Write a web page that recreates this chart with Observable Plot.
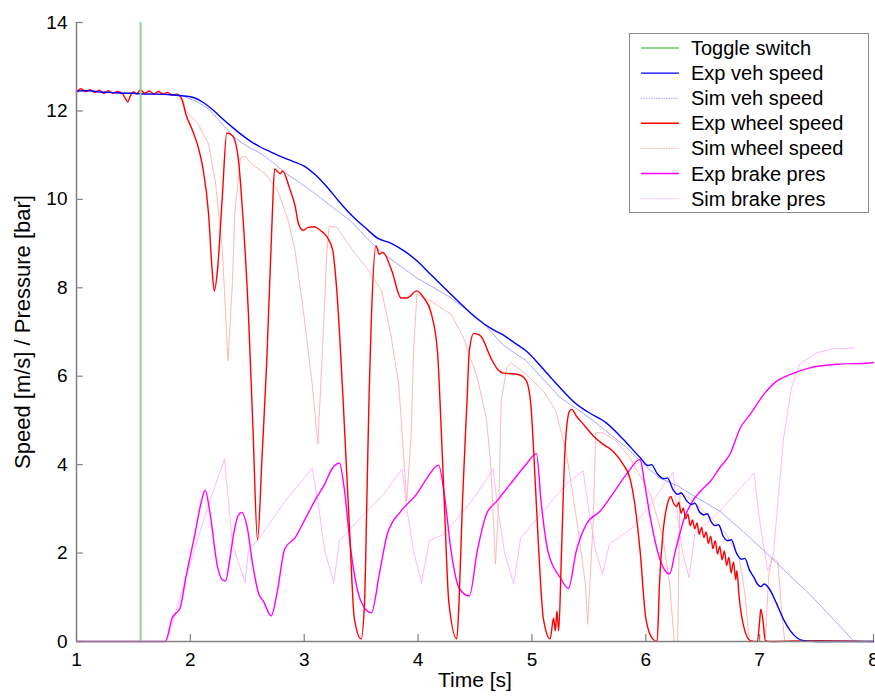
<!DOCTYPE html>
<html>
<head>
<meta charset="utf-8">
<script src="https://cdn.jsdelivr.net/npm/d3@7"></script>
<script src="https://cdn.jsdelivr.net/npm/@observablehq/plot@0.6"></script>
<style>
  html, body { margin: 0; padding: 0; background: #fff; }
  #chart { width: 875px; height: 696px; }
</style>
</head>
<body>
<div id="chart"></div>
<script>
// ---------- DATA ----------
const xTicks = [1, 2, 3, 4, 5, 6, 7, 8];
const yTicks = [0, 2, 4, 6, 8, 10, 12, 14];
const toggleTime = [1.563];

const seriesNames = ["Toggle switch", "Exp veh speed", "Sim veh speed", "Exp wheel speed", "Sim wheel speed", "Exp brake pres", "Sim brake pres"];

const expVeh = [[1.00,12.45],[1.10,12.46],[1.20,12.43],[1.30,12.42],[1.40,12.40],[1.50,12.40],[1.60,12.38],[1.70,12.38],[1.80,12.37],[1.90,12.35],[2.00,12.32],[2.06,12.27],[2.12,12.18],[2.20,12.02],[2.28,11.83],[2.36,11.65],[2.44,11.48],[2.52,11.33],[2.61,11.19],[2.70,11.08],[2.80,10.96],[2.90,10.86],[3.00,10.75],[3.10,10.55],[3.20,10.28],[3.30,9.97],[3.42,9.63],[3.54,9.35],[3.64,9.13],[3.76,9.01],[3.88,8.83],[3.99,8.61],[4.10,8.33],[4.23,8.00],[4.37,7.65],[4.52,7.30],[4.64,7.08],[4.75,6.93],[4.85,6.75],[4.95,6.57],[5.07,6.25],[5.19,5.90],[5.29,5.62],[5.39,5.37],[5.50,5.18],[5.65,4.95],[5.80,4.58],[5.95,4.16],[6.02,3.98],[6.05,4.00],[6.10,3.80],[6.16,3.68],[6.19,3.70],[6.24,3.43],[6.28,3.33],[6.31,3.36],[6.36,3.18],[6.40,3.10],[6.43,3.13],[6.47,2.94],[6.51,2.86],[6.54,2.89],[6.57,2.73],[6.61,2.62],[6.64,2.64],[6.68,2.38],[6.72,2.28],[6.75,2.30],[6.80,1.98],[6.84,1.86],[6.87,1.88],[6.91,1.62],[6.95,1.45],[6.98,1.30],[7.01,1.24],[7.04,1.30],[7.08,1.21],[7.15,0.85],[7.21,0.50],[7.27,0.24],[7.33,0.08],[7.39,0.02],[7.50,0.00],[8.00,0.00]];

const simVeh = [[1.00,12.45],[1.50,12.40],[1.90,12.36],[1.95,12.32],[2.05,12.22],[2.16,12.05],[2.28,11.70],[2.39,11.39],[2.50,11.20],[2.63,11.02],[2.75,10.78],[2.83,10.60],[2.92,10.45],[3.02,10.27],[3.12,10.08],[3.26,9.80],[3.41,9.51],[3.55,9.12],[3.70,8.76],[3.85,8.48],[3.99,8.22],[4.14,8.00],[4.29,7.77],[4.44,7.48],[4.58,7.18],[4.66,6.95],[4.75,6.70],[4.85,6.52],[4.95,6.35],[5.10,5.93],[5.25,5.51],[5.40,5.25],[5.54,4.99],[5.68,4.70],[5.83,4.39],[5.97,4.03],[6.12,3.70],[6.28,3.52],[6.45,3.25],[6.65,2.95],[6.85,2.50],[7.04,2.05],[7.24,1.55],[7.44,1.07],[7.63,0.55],[7.83,0.00],[8.00,0.00]];

const expWheel = [[1.00,12.42],[1.04,12.50],[1.08,12.44],[1.12,12.48],[1.16,12.42],[1.20,12.47],[1.24,12.40],[1.28,12.46],[1.32,12.40],[1.36,12.44],[1.40,12.40],[1.43,12.28],[1.45,12.20],[1.47,12.32],[1.50,12.43],[1.53,12.38],[1.56,12.48],[1.60,12.40],[1.64,12.45],[1.68,12.38],[1.72,12.44],[1.76,12.38],[1.80,12.42],[1.84,12.36],[1.88,12.38],[1.91,12.33],[1.93,12.23],[1.96,11.93],[2.02,11.55],[2.07,11.17],[2.11,10.71],[2.16,9.67],[2.19,8.45],[2.21,7.93],[2.24,8.45],[2.28,10.03],[2.32,11.50],[2.37,11.44],[2.42,10.94],[2.46,9.67],[2.51,7.41],[2.55,4.80],[2.59,2.30],[2.63,4.20],[2.67,6.27],[2.72,9.67],[2.74,10.69],[2.77,10.62],[2.79,10.58],[2.81,10.64],[2.87,10.26],[2.92,9.85],[2.95,9.45],[2.99,9.30],[3.03,9.36],[3.09,9.38],[3.14,9.30],[3.20,9.15],[3.25,8.85],[3.29,7.80],[3.34,5.54],[3.40,2.43],[3.44,0.53],[3.50,0.06],[3.53,0.90],[3.55,3.17],[3.57,5.60],[3.59,7.32],[3.63,8.95],[3.66,8.76],[3.69,8.80],[3.77,8.38],[3.85,7.77],[3.90,7.77],[3.99,7.93],[4.05,7.77],[4.11,7.47],[4.17,6.57],[4.20,5.00],[4.23,3.17],[4.27,0.90],[4.34,0.06],[4.36,0.90],[4.39,3.17],[4.43,5.44],[4.45,6.57],[4.49,6.97],[4.52,6.95],[4.55,6.91],[4.64,6.41],[4.70,6.15],[4.75,6.07],[4.88,6.04],[4.95,5.90],[4.99,5.37],[5.03,3.56],[5.06,2.05],[5.10,0.53],[5.16,0.06],[5.19,0.53],[5.205,0.24],[5.22,0.69],[5.235,0.24],[5.26,2.05],[5.29,4.31],[5.33,5.21],[5.35,5.25],[5.39,5.10],[5.45,4.92],[5.54,4.65],[5.62,4.47],[5.71,4.31],[5.80,4.01],[5.86,3.70],[5.90,3.17],[5.95,2.05],[6.00,0.53],[6.06,0.06],[6.10,0.00],[6.12,1.30],[6.15,2.43],[6.19,3.11],[6.22,3.28],[6.24,3.15],[6.27,3.05],[6.29,3.15],[6.31,2.90],[6.33,3.02],[6.35,2.78],[6.37,2.88],[6.39,2.62],[6.41,2.75],[6.43,2.55],[6.45,2.68],[6.47,2.42],[6.49,2.58],[6.51,2.35],[6.53,2.48],[6.55,2.22],[6.57,2.38],[6.59,2.10],[6.61,2.28],[6.63,1.98],[6.65,2.15],[6.67,1.85],[6.69,2.05],[6.71,1.72],[6.73,1.90],[6.75,1.55],[6.77,1.80],[6.79,1.40],[6.80,1.60],[6.82,1.00],[6.84,0.60],[6.87,0.24],[6.92,0.02],[6.98,0.00],[7.00,0.46],[7.01,0.73],[7.03,0.46],[7.05,0.02],[7.10,0.00],[7.50,0.02],[8.00,0.00]];

const simWheel = [[1.00,12.45],[1.50,12.40],[1.90,12.36],[1.93,12.30],[1.96,12.00],[2.07,11.70],[2.16,11.25],[2.22,10.40],[2.28,8.90],[2.31,7.40],[2.33,6.35],[2.35,7.20],[2.37,8.15],[2.39,9.67],[2.44,10.94],[2.48,10.98],[2.54,10.80],[2.66,10.57],[2.77,10.19],[2.86,9.51],[2.92,8.84],[3.00,7.33],[3.07,5.82],[3.12,4.47],[3.16,6.57],[3.20,8.84],[3.22,9.40],[3.29,9.36],[3.41,8.90],[3.55,8.45],[3.68,7.93],[3.76,6.95],[3.83,5.82],[3.88,3.93],[3.90,3.17],[3.94,4.69],[3.96,6.57],[3.99,7.86],[4.11,7.70],[4.29,7.40],[4.40,6.87],[4.52,5.96],[4.60,5.05],[4.64,3.93],[4.68,1.75],[4.71,3.17],[4.73,5.44],[4.78,6.20],[4.82,6.30],[4.95,6.04],[5.10,5.67],[5.21,5.21],[5.30,4.31],[5.39,2.80],[5.47,1.30],[5.49,0.39],[5.54,2.80],[5.56,4.72],[5.62,4.72],[5.74,4.54],[5.86,4.16],[6.04,3.34],[6.15,2.35],[6.21,1.30],[6.25,0.00],[6.28,0.00],[6.30,3.40],[6.40,3.20],[6.55,2.85],[6.70,2.45],[6.82,1.90],[6.87,1.10],[6.91,0.00],[7.05,0.00],[7.08,1.50],[7.11,1.90],[7.16,1.80],[7.19,0.80],[7.22,0.00],[8.00,0.00]];

const expBrake = [[1.00,0.00],[1.78,0.00],[1.84,0.53],[1.91,0.76],[1.96,1.44],[2.04,2.43],[2.10,3.20],[2.13,3.42],[2.17,2.95],[2.24,1.67],[2.28,1.40],[2.31,1.37],[2.34,1.75],[2.38,2.43],[2.42,2.85],[2.45,2.92],[2.50,2.57],[2.55,1.70],[2.60,1.08],[2.64,0.92],[2.71,0.58],[2.76,1.08],[2.83,2.10],[2.92,2.35],[3.00,2.73],[3.09,3.17],[3.18,3.56],[3.25,3.93],[3.31,4.03],[3.35,3.49],[3.41,2.05],[3.50,0.90],[3.59,0.65],[3.66,1.53],[3.73,2.43],[3.85,2.95],[3.99,3.34],[4.08,3.70],[4.18,3.99],[4.23,3.34],[4.29,2.05],[4.36,1.21],[4.45,1.03],[4.52,2.05],[4.60,2.88],[4.69,3.17],[4.81,3.56],[4.95,4.01],[5.04,4.25],[5.08,3.17],[5.14,2.05],[5.25,1.44],[5.32,1.20],[5.39,2.05],[5.48,2.66],[5.60,2.95],[5.71,3.34],[5.83,3.78],[5.95,4.12],[5.99,3.56],[6.04,2.80],[6.12,1.89],[6.21,1.53],[6.26,2.05],[6.34,2.80],[6.41,3.17],[6.48,3.40],[6.57,3.63],[6.65,3.93],[6.74,4.24],[6.83,4.83],[6.92,5.15],[7.04,5.60],[7.15,5.89],[7.27,6.04],[7.44,6.19],[7.68,6.27],[7.97,6.30],[8.00,6.31]];

const simBrake = [[1.00,0.00],[1.79,0.00],[1.83,0.30],[1.96,1.44],[2.16,3.10],[2.30,4.13],[2.37,2.20],[2.48,1.33],[2.51,2.05],[2.63,2.43],[2.83,3.17],[3.07,3.92],[3.12,3.17],[3.18,2.05],[3.26,1.33],[3.31,2.28],[3.41,2.57],[3.70,3.34],[3.86,3.90],[3.90,3.02],[3.96,2.05],[4.03,1.33],[4.10,2.28],[4.23,2.43],[4.47,3.17],[4.66,3.90],[4.70,3.00],[4.76,2.00],[4.84,1.30],[4.90,2.34],[5.10,2.95],[5.30,3.56],[5.45,3.86],[5.51,2.80],[5.56,2.05],[5.62,1.53],[5.68,2.20],[5.88,2.57],[6.06,3.17],[6.24,3.83],[6.28,2.80],[6.32,2.05],[6.38,1.44],[6.43,2.43],[6.65,2.95],[6.95,3.81],[7.00,2.73],[7.07,1.60],[7.12,1.96],[7.21,4.60],[7.28,5.74],[7.35,6.27],[7.50,6.53],[7.65,6.62],[7.83,6.64]];

// ---------- STYLES ----------
const colors = {
  toggle: "#8fd48f",
  expVeh: "#0000ff",
  simVeh: "#9d9dff",
  expWheel: "#ff0000",
  simWheel: "#ffb0b0",
  expBrake: "#ff00ff",
  simBrake: "#ffb0ff"
};
const legendItems = [
  {name: seriesNames[0], color: colors.toggle, width: 2, dash: null},
  {name: seriesNames[1], color: colors.expVeh, width: 1.4, dash: null},
  {name: seriesNames[2], color: colors.simVeh, width: 1, dash: "1.5,1"},
  {name: seriesNames[3], color: colors.expWheel, width: 1.4, dash: null},
  {name: seriesNames[4], color: colors.simWheel, width: 1, dash: "1.5,1"},
  {name: seriesNames[5], color: colors.expBrake, width: 1.4, dash: null},
  {name: seriesNames[6], color: colors.simBrake, width: 1, dash: "1.5,1"}
];

const font = "'Liberation Sans', Arial, Helvetica, sans-serif";
const simLine = (data, color) => Plot.line(data, {x: d => d[0], y: d => d[1], stroke: color, strokeWidth: 1, strokeDasharray: "1.5,1"});
const expLine = (data, color) => Plot.line(data, {x: d => d[0], y: d => d[1], stroke: color, strokeWidth: 1.4, curve: "monotone-x"});

const chart = Plot.plot({
  width: 875,
  height: 696,
  marginLeft: 76,
  marginRight: 2,
  marginTop: 22,
  marginBottom: 55,
  style: {fontFamily: font, fontSize: "19px", color: "#000", background: "#fff", overflow: "visible"},
  x: {domain: [1, 8], ticks: xTicks, tickSize: 0, tickPadding: 11, tickFormat: d => String(d), label: null},
  y: {domain: [0, 14], ticks: yTicks, tickSize: 0, tickPadding: 9, tickFormat: d => String(d), label: null},
  marks: [
    simLine(simBrake, colors.simBrake),
    simLine(simWheel, colors.simWheel),
    simLine(simVeh, colors.simVeh),
    expLine(expBrake, colors.expBrake),
    expLine(expWheel, colors.expWheel),
    expLine(expVeh, colors.expVeh),
    Plot.ruleX(toggleTime, {y1: 0, y2: 14, stroke: colors.toggle, strokeWidth: 2}),
    // axis lines
    Plot.ruleY([0], {stroke: "#808080", strokeWidth: 1.5}),
    Plot.ruleX([1], {stroke: "#808080", strokeWidth: 1.5}),
    // inward ticks
    Plot.ruleX(xTicks, {y1: 0, y2: 0.16, stroke: "#808080", strokeWidth: 1.2}),
    Plot.ruleY(yTicks, {x1: 1, x2: 1.06, stroke: "#808080", strokeWidth: 1.2}),
    Plot.text(["Time [s]"], {frameAnchor: "bottom", dy: 45, fontSize: 21}),
    Plot.text(["Speed [m/s] / Pressure [bar]"], {frameAnchor: "left", textAnchor: "middle", rotate: -90, dx: -54, fontSize: 22})
  ]
});

// ---------- LEGEND ----------
const svg = d3.select(chart);
const lg = svg.append("g").attr("font-family", font).attr("font-size", 20).attr("text-anchor", "start");
lg.append("rect").attr("x", 629.5).attr("y", 33.5).attr("width", 239).attr("height", 179)
  .attr("fill", "#fff").attr("stroke", "#8a8a8a").attr("stroke-width", 1);
legendItems.forEach((it, i) => {
  const y = 48 + i * 25.1;
  lg.append("line").attr("x1", 641).attr("x2", 679).attr("y1", y).attr("y2", y)
    .attr("stroke", it.color).attr("stroke-width", it.width)
    .attr("stroke-dasharray", it.dash);
  lg.append("text").attr("x", 691).attr("y", y).attr("dy", "0.35em")
    .attr("text-anchor", "start").attr("fill", "#000").text(it.name);
});

document.getElementById("chart").appendChild(chart);
</script>
</body>
</html>
